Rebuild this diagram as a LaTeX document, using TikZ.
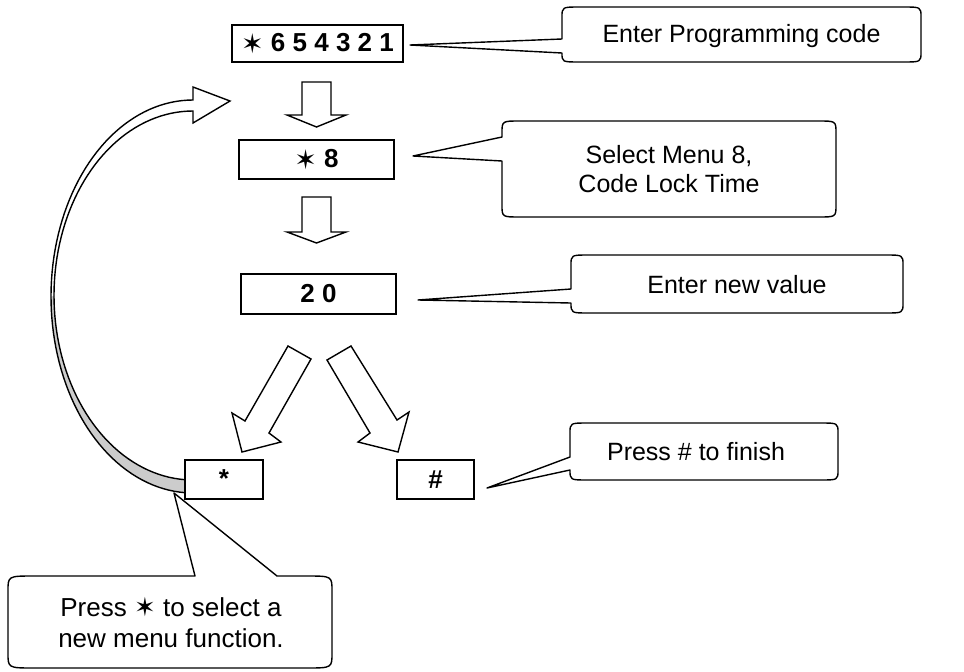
\documentclass[tikz,border=0pt]{standalone}
\usepackage{fontspec}
\setmainfont{Liberation Sans}
\newfontfamily\symf{DejaVu Sans}
\newcommand{\sixstar}{\raisebox{-1.5pt}{\symf\mdseries\fontsize{27}{27}\selectfont ✶}}
\newcommand{\smallstar}{{\symf\mdseries ✶}}
\tikzset{
  keybox/.style={draw, line width=1.4pt, inner sep=0pt, font=\fontsize{26}{30}\selectfont\bfseries},
  bubble/.style={draw, line width=1.4pt, fill=white, line join=round},
  blockarrow/.style={draw, line width=1.4pt, fill=white, line join=miter},
  btext/.style={font=\fontsize{25}{29}\selectfont, align=center, inner sep=0pt},
}
\begin{document}
\begin{tikzpicture}[x=1pt,y=-1pt]
\useasboundingbox (0,0) rectangle (964,672);

% ---------- key boxes ----------
\node[keybox, minimum width=171pt, minimum height=37pt] (b1) at (317.5,43.5) {\sixstar\ 6 5 4 3 2 1};
\node[keybox, minimum width=155pt, minimum height=39pt] (b2) at (316.5,159.5) {\sixstar\ 8};
\node[keybox, minimum width=155pt, minimum height=40pt] (b3) at (318.5,294) {2 0};
\node[keybox, minimum width=77pt, minimum height=39pt] (b5) at (435.5,479.5) {\#};

% ---------- block arrows ----------
\draw[blockarrow] (302,82) -- (331,82) -- (331,115) -- (346,115) -- (316.5,127) -- (287,115) -- (302,115) -- cycle;
\draw[blockarrow] (302,197) -- (331,197) -- (331,232) -- (346,232) -- (316.5,243) -- (287,232) -- (302,232) -- cycle;
\draw[blockarrow] (288,346) -- (311,359) -- (269,433) -- (281,442) -- (242,452) -- (232,413) -- (245,421) -- cycle;
\draw[blockarrow] (351,346) -- (327,360) -- (370,433) -- (358,442) -- (398,452) -- (409,412) -- (397,420) -- cycle;

% ---------- curved return arrow ----------
\fill[gray!40] plot[domain=3.2:90, samples=40, variable=\t] ({193-142*sin(\t)},{296.5+196.5*cos(\t)})
   -- plot[domain=90:3.3, samples=40, variable=\t] ({193-139*sin(\t)},{295.5+184.5*cos(\t)}) -- cycle;
\fill[white] plot[domain=90:180, samples=40, variable=\t] ({193-142*sin(\t)},{296.5+196.5*cos(\t)})
   -- (193,87) -- (230,101) -- (193,123) -- (193,111)
   -- plot[domain=180:90, samples=40, variable=\t] ({193-139*sin(\t)},{295.5+184.5*cos(\t)}) -- cycle;
\draw[line width=1.4pt, line join=miter] plot[domain=3.2:180, samples=80, variable=\t] ({193-142*sin(\t)},{296.5+196.5*cos(\t)})
   -- (193,87) -- (230,101) -- (193,123) -- (193,111)
   -- plot[domain=180:3.3, samples=80, variable=\t] ({193-139*sin(\t)},{295.5+184.5*cos(\t)});
\node[keybox, minimum width=78pt, minimum height=39pt, fill=white] (b4) at (224,479.5) {\raisebox{2pt}{*}};

% ---------- callout tips ----------
\coordinate (tip1) at (410,45);
\coordinate (tip2) at (413,156);
\coordinate (tip3) at (418,300);
\coordinate (tip4) at (487,488);
\coordinate (tip5) at (174,493);

% ---------- callouts ----------
\draw[bubble] (562,39) -- (tip1) -- (562,53) .. controls (562,62) .. (580,62) -- (903,62)
  .. controls (921,62) .. (921,52) -- (921,17) .. controls (921,7) .. (903,7) -- (580,7)
  .. controls (562,7) .. (562,17) -- cycle;
\node[btext] (t1) at (741.5,36) {Enter Programming code};

\draw[bubble] (502,137) -- (tip2) -- (502,161) -- (502,205) .. controls (502,217) .. (520,217) -- (818,217)
  .. controls (836,217) .. (836,205) -- (836,133) .. controls (836,121) .. (818,121) -- (520,121)
  .. controls (502,121) .. (502,133) -- cycle;
\node[btext] (t2) at (669,169) {Select Menu 8,\\Code Lock Time};

\draw[bubble] (571,289) -- (tip3) -- (571,303) .. controls (571,313) .. (589,313) -- (885,313)
  .. controls (903,313) .. (903,303) -- (903,265) .. controls (903,255) .. (885,255) -- (589,255)
  .. controls (571,255) .. (571,265) -- cycle;
\node[btext] (t3) at (737,285) {Enter new value};

\draw[bubble] (570,457) -- (tip4) -- (570,470) .. controls (570,480) .. (588,480) -- (820,480)
  .. controls (838,480) .. (838,470) -- (838,433) .. controls (838,423) .. (820,423) -- (588,423)
  .. controls (570,423) .. (570,433) -- cycle;
\node[btext] (t4) at (696,452) {Press \# to finish};

\draw[bubble] (195,576) -- (tip5) -- (277,576) -- (306,576) .. controls (332,576) .. (332,591)
  -- (332,653) .. controls (332,668) .. (306,668) -- (34,668) .. controls (8,668) .. (8,653)
  -- (8,591) .. controls (8,576) .. (34,576) -- cycle;
\node[btext, font=\fontsize{26}{31}\selectfont] (t5) at (171,622) {Press \smallstar\ to select a\\new menu function.};
\end{tikzpicture}
\end{document}
